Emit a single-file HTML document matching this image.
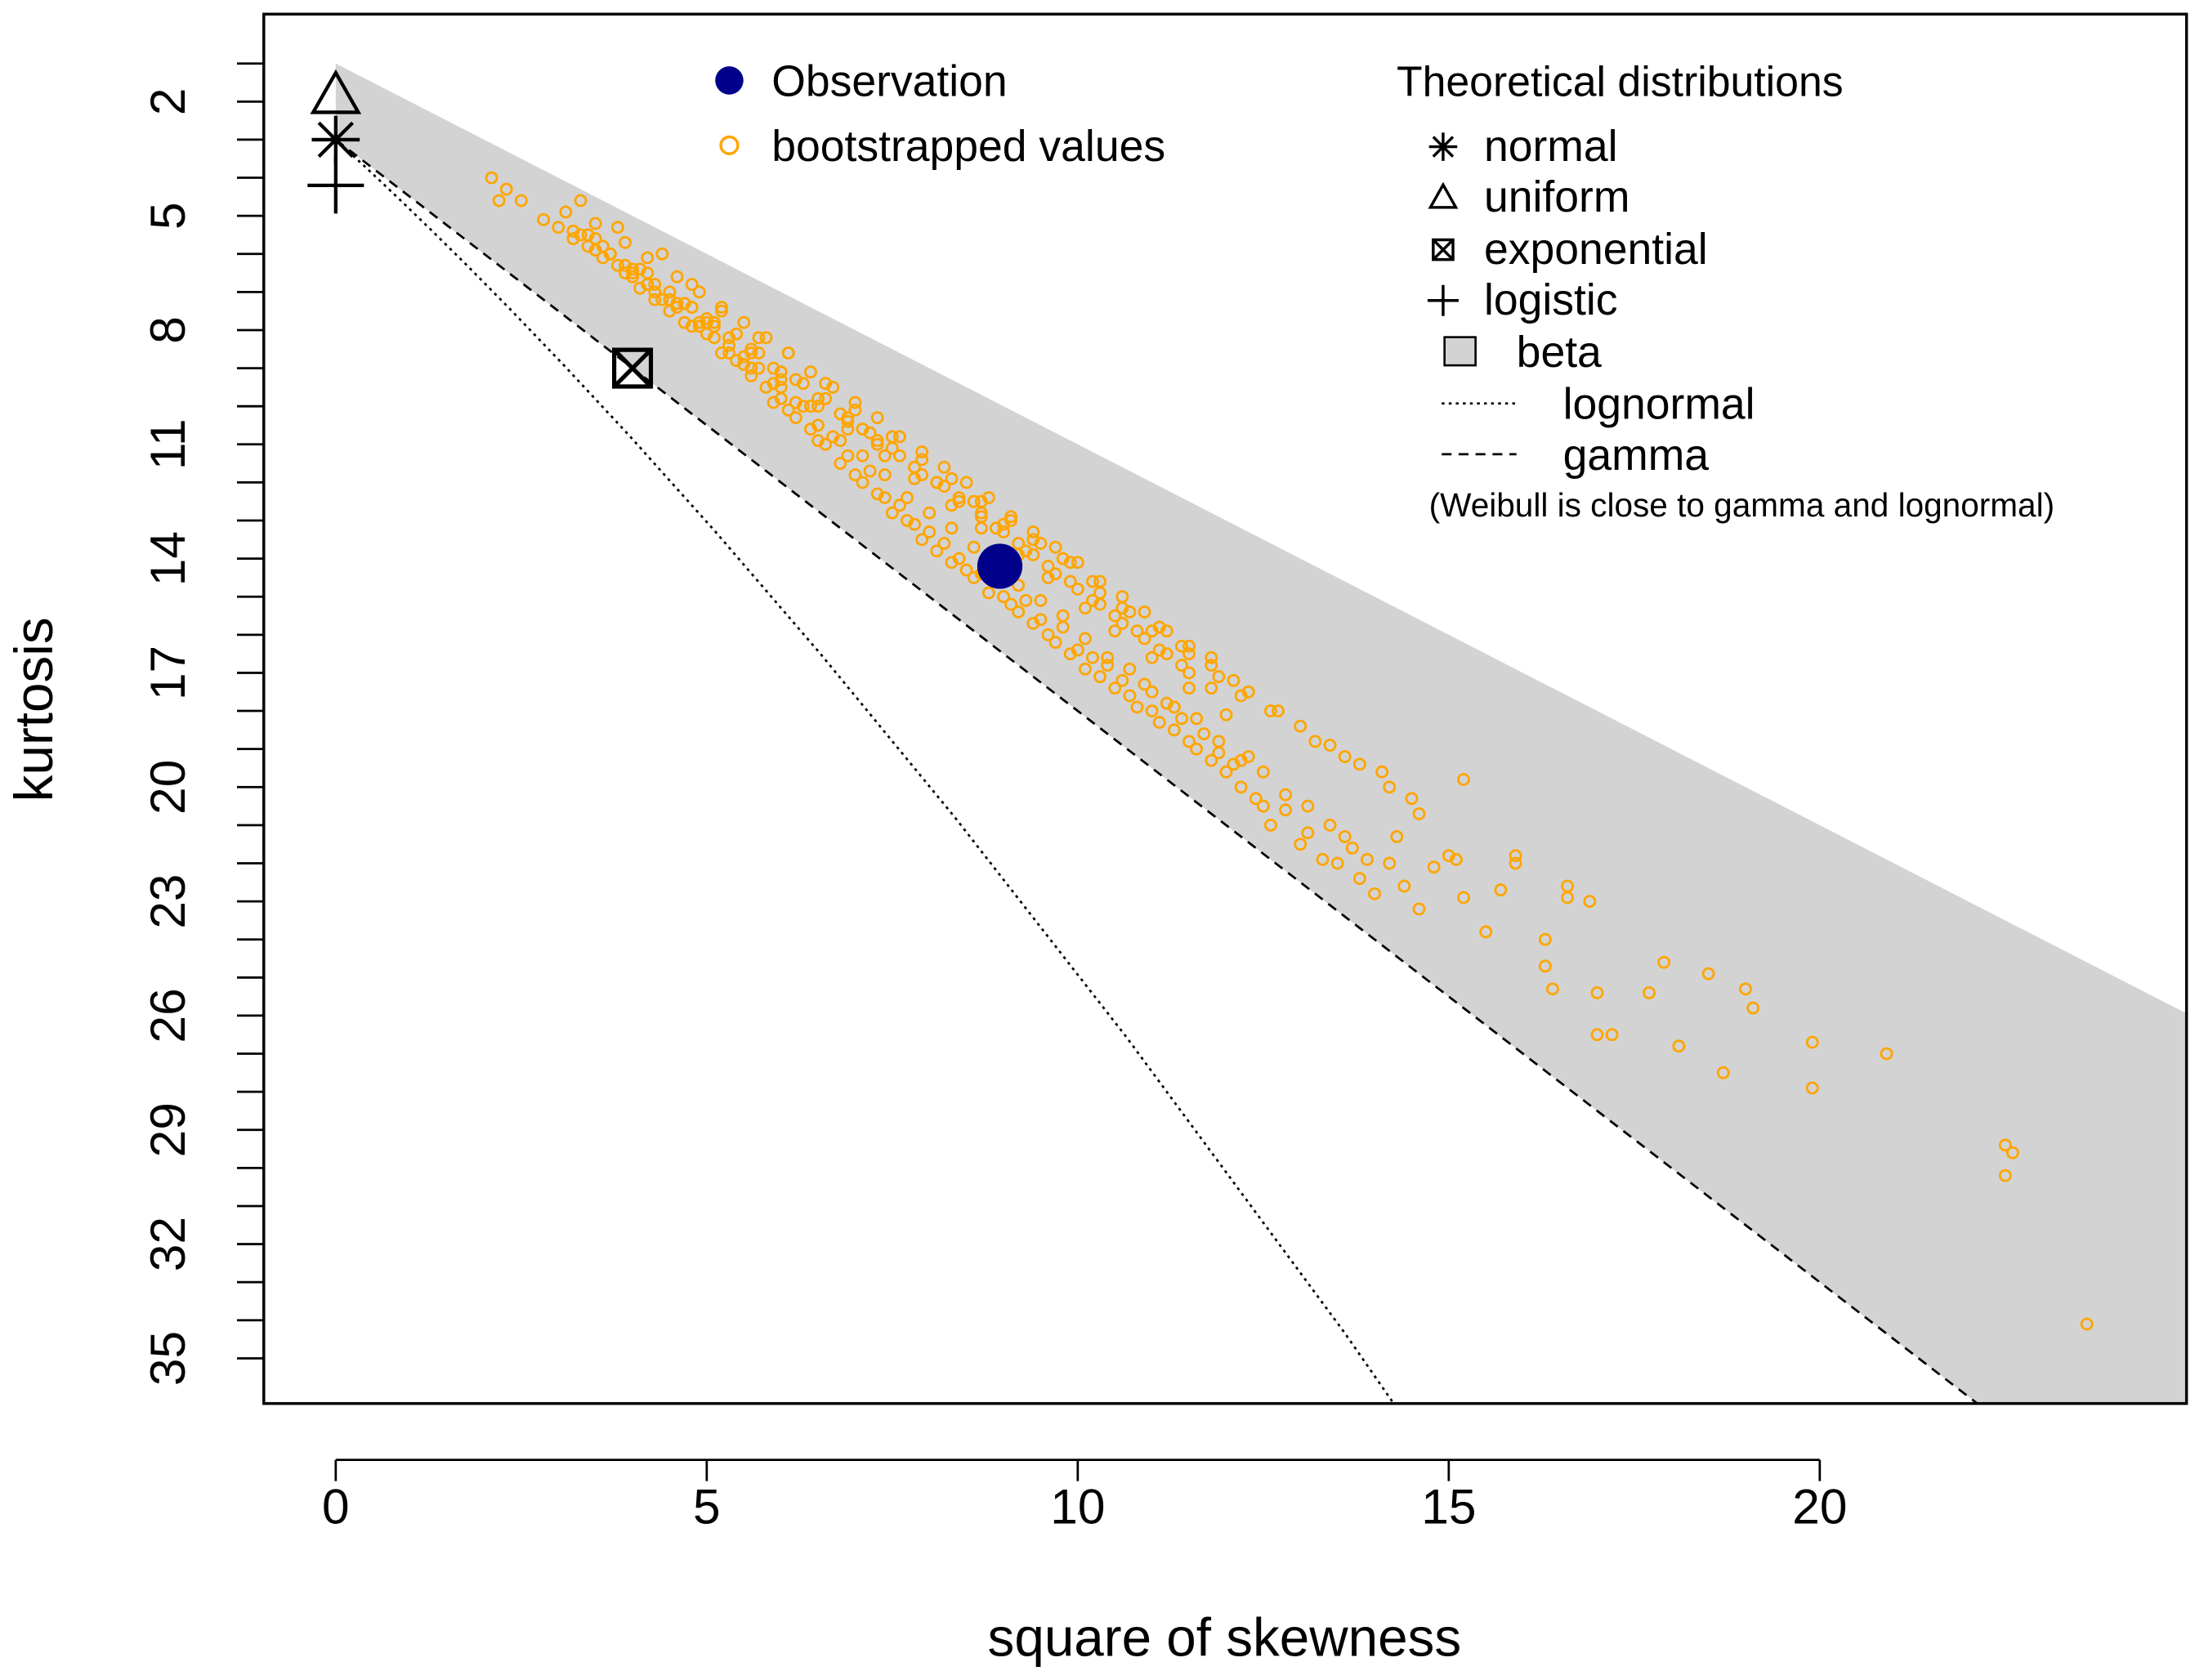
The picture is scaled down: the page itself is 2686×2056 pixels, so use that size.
<!DOCTYPE html>
<html><head><meta charset="utf-8"><style>
html,body{margin:0;padding:0;background:#fff;overflow:hidden;width:2686px;height:2056px}
svg{display:block}
text{font-family:"Liberation Sans",Arial,sans-serif;fill:#000}
</style></head><body>
<svg id="chart" width="2686" height="2056" viewBox="0 0 1556 1191" xmlns="http://www.w3.org/2000/svg">
<rect x="0" y="0" width="1556" height="1191" fill="#fff"/>
<g id="plot"></g>
<rect x="187" y="10" width="1363" height="985" fill="none" stroke="#000" stroke-width="2"/>
<g id="axes"></g>
<text x="868" y="1174" font-size="38" text-anchor="middle">square of skewness</text>
<text x="0" y="0" font-size="38" text-anchor="middle" transform="translate(37,503) rotate(-90)">kurtosis</text>
<g id="legend"></g>
</svg>
<script>
const bootSkew=[2.1,2.3,2.2,2.5,2.8,3.0,3.2,3.3,3.4,3.5,3.6,3.7,3.8,3.9,4.0,4.1,4.2,4.3,4.4,4.5,4.6,4.7,4.8,4.9,5.0,5.1,5.2,5.3,5.4,5.5,5.6,5.7,5.8,5.9,6.0,6.1,6.2,6.3,6.4,6.5,6.6,6.7,6.8,6.9,7.0,7.1,7.2,7.3,7.4,7.5,7.6,7.7,7.8,7.9,8.0,8.1,8.2,8.3,8.4,8.5,8.6,8.7,8.8,8.9,9.0,9.1,9.2,9.3,9.4,9.5,9.6,9.7,9.8,9.9,10.0,10.1,10.2,10.3,10.4,10.5,10.6,10.7,10.8,10.9,11.0,11.1,11.2,11.3,11.4,11.5,11.6,11.7,11.8,11.9,12.0,12.1,12.2,12.3,12.4,12.5,12.6,12.8,13.0,13.1,13.3,13.5,13.6,13.8,14.0,14.2,14.4,14.6,14.8,15.2,15.2,15.0,15.5,15.7,15.9,15.9,16.3,16.3,16.4,16.6,16.6,17.0,17.0,16.9,17.2,17.7,17.9,18.1,18.5,18.7,19.0,19.1,19.9,19.9,20.9,22.5,22.6,22.5,23.6,
3.1,3.5,3.9,4.3,4.6,4.9,5.3,5.6,5.9,6.2,6.5,6.8,7.1,7.4,7.7,8.0,8.3,8.6,8.9,9.2,9.5,9.8,10.1,10.4,10.7,11.0,11.3,11.6,11.9,12.2,12.5,12.8,13.1,13.4,13.7,
3.3,3.8,4.4,4.8,5.2,5.7,6.1,6.6,7.0,7.5,7.9,8.3,8.7,9.1,9.5,9.9,10.3,10.7,11.1,11.5,11.9,12.3,12.7,13.2,13.6,14.1,14.5,14.3,13.9,
3.4,4.0,4.5,5.0,5.5,6.0,6.4,6.9,7.3,7.8,8.2,8.6,9.0,9.4,9.8,10.2,10.6,11.0,11.4,11.8,12.2,12.6,13.0,13.4,13.8,14.2,14.6,15.1,
3.2,3.6,4.0,4.3,4.7,5.0,5.3,5.6,5.9,6.2,6.5,6.8,7.1,7.3,7.6,7.9,8.1,8.4,8.7,8.9,9.2,9.4,9.7,10.0,10.3,10.6,10.9,11.2,11.5,11.8,
3.5,3.9,4.2,4.6,4.9,5.2,5.5,5.8,6.1,6.4,6.7,7.0,7.3,7.6,7.9,8.2,8.5,8.8,9.1,9.4,9.7,10.0,10.3,10.6,10.9,11.2,11.5,11.8,12.1,
3.7,4.1,4.5,4.8,5.1,5.4,5.7,6.0,6.3,6.6,6.9,7.2,7.5,7.8,8.1,8.4,8.7,9.0,9.3,9.6,9.9,10.2,10.5,10.8,11.1,11.4,
4.2,4.7,5.1,5.6,6.0,6.5,6.9,7.4,7.8,8.3,8.7,9.2,9.6,10.1,10.5,11.0,11.5,12.0];
const bootKurt=[4.0,4.3,4.6,4.6,5.1,5.3,5.6,5.5,5.8,5.9,6.1,6.0,6.3,6.5,6.6,6.9,6.8,7.2,7.2,7.5,7.3,7.8,7.9,7.8,8.1,8.2,8.6,8.4,8.8,8.9,9.2,9.0,9.5,9.9,9.8,10.1,10.3,10.0,10.6,10.9,11.0,10.8,11.5,11.3,11.8,12.0,11.7,12.3,12.4,12.8,12.6,13.0,13.1,13.5,13.3,13.8,13.6,14.1,14.0,14.3,14.5,14.4,14.9,14.6,15.0,15.2,15.4,15.1,15.7,15.6,16.0,16.2,15.8,16.5,16.4,16.9,16.6,17.1,16.8,17.4,17.2,17.6,17.9,17.3,18.0,18.3,17.8,18.5,18.2,18.8,19.0,18.6,19.3,19.1,19.6,19.4,20.0,19.2,20.3,20.5,21.0,20.6,21.5,21.2,21.9,22.0,21.3,22.4,22.8,22.0,22.6,23.2,22.1,22.9,19.8,21.8,23.8,22.7,21.8,22.0,24.0,24.7,25.3,22.6,22.9,25.4,26.5,23.0,26.5,25.4,24.6,26.8,24.9,27.5,25.3,25.8,26.7,27.9,27.0,29.4,29.6,30.2,34.1,
4.9,5.6,6.3,7.0,7.4,7.9,8.6,9.0,9.4,9.9,10.5,10.9,11.3,11.8,12.4,12.8,13.2,13.7,14.1,14.7,15.1,15.5,16.1,16.6,16.9,17.5,17.9,18.2,18.8,19.3,19.6,20.2,20.5,21.0,21.6,
4.6,5.3,6.0,6.8,7.5,8.2,8.6,9.4,10.1,10.8,11.4,11.9,12.5,13.0,13.6,14.1,14.9,15.4,15.8,16.5,17.1,17.5,18.0,18.8,19.2,19.6,20.3,21.3,21.9,
5.5,6.5,7.2,7.8,8.7,9.5,10.0,10.4,11.0,11.6,12.1,12.5,13.1,13.5,14.0,14.6,15.3,15.9,16.3,16.6,17.6,18.0,18.4,18.9,19.4,20.0,20.7,21.9,
5.4,5.8,6.4,6.8,7.3,7.7,8.2,8.5,9.0,9.3,9.8,10.2,10.6,10.9,11.3,11.8,12.0,12.5,12.9,13.2,13.6,13.9,14.4,14.8,15.2,15.7,16.1,16.5,17.0,17.4,
5.2,5.7,6.1,6.6,7.0,7.4,7.8,8.2,8.6,9.1,9.5,9.9,10.3,10.8,11.2,11.6,12.0,12.4,12.9,13.3,13.7,14.1,14.6,15.0,15.4,15.9,16.3,16.8,17.2,
6.0,6.4,7.0,7.4,7.8,8.1,8.6,9.1,9.4,9.8,10.3,10.7,11.1,11.6,12.0,12.4,12.8,13.3,13.8,14.2,14.6,15.1,15.5,15.9,16.4,16.8,
6.5,7.3,7.9,8.6,9.3,10.0,10.6,11.3,11.9,12.6,13.2,13.9,14.5,15.3,15.9,16.6,17.4,18.1];
const logSigmaParam=[0.05,0.1,0.15,0.2,0.25,0.3,0.35,0.4,0.45,0.5,0.55,0.6,0.65,0.7,0.75,0.8,0.85,0.9,0.95,1.0,1.05,1.1,1.15,1.2,1.25,1.3,1.35,1.4,1.45,1.5,1.55,1.6];
const xTicks=[0,5,10,15,20];
const yTickLabels=[2,5,8,11,14,17,20,23,26,29,32,35];
const yMinorTicks=[1,2,3,4,5,6,7,8,9,10,11,12,13,14,15,16,17,18,19,20,21,22,23,24,25,26,27,28,29,30,31,32,33,34,35];
const observation=[8.95,14.2];
const NS='http://www.w3.org/2000/svg';
const X=s=>238+s*52.6, Y=k=>72+(k-2)*27;
function el(t,a,p){const e=document.createElementNS(NS,t);for(const k in a)e.setAttribute(k,a[k]);p.appendChild(e);return e;}
const plot=document.getElementById('plot'),axes=document.getElementById('axes'),leg=document.getElementById('legend');
const defs=el('defs',{},plot);const cp=el('clipPath',{id:'cp'},defs);el('rect',{x:187,y:10,width:1363,height:985},cp);
const g=el('g',{'clip-path':'url(#cp)'},plot);
const xmax=(1550-238)/52.6;
const beta=el('polygon',{points:`${X(0)},${Y(1)} ${X(xmax)},${Y(xmax+1)} ${X(xmax)},${Y(3+1.5*xmax)} ${X(0)},${Y(3)}`,fill:'#d3d3d3'},g);


const gam=el('line',{x1:X(0),y1:Y(3),x2:X(30),y2:Y(3+45),stroke:'#000','stroke-width':1.6,'stroke-dasharray':'7,5'},g);


let pts=[];
logSigmaParam.forEach(s=>{const e=Math.exp(s*s);pts.push([X((e+2)*(e+2)*(e-1)),Y(e**4+2*e**3+3*e*e-3)]);});
const ln=el('polyline',{points:pts.map(p=>p.join(',')).join(' '),fill:'none',stroke:'#000','stroke-width':1.6,'stroke-dasharray':'2,3'},g);


bootSkew.forEach((s,i)=>{const c=el('circle',{cx:X(s),cy:Y(bootKurt[i]),r:3.8,fill:'none',stroke:'#FFA500','stroke-width':1.6},g);

});
const tri=el('polygon',{points:`${X(0)},${Y(1.8)-15} ${X(0)-16},${Y(1.8)+13} ${X(0)+16},${Y(1.8)+13}`,fill:'none',stroke:'#000','stroke-width':2.5},plot);

const star=el('path',{d:`M${X(0)-17},${Y(3)}h34M${X(0)},${Y(3)-17}v34M${X(0)-12},${Y(3)-12}l24,24M${X(0)+12},${Y(3)-12}l-24,24`,stroke:'#000','stroke-width':2.5},plot);

const plus=el('path',{d:`M${X(0)-20},${Y(4.2)}h40M${X(0)},${Y(4.2)-20}v40`,stroke:'#000','stroke-width':2.5},plot);

const ex=X(4),ey=Y(9);
const expo=el('path',{d:`M${ex-13},${ey-13}h26v26h-26zM${ex-13},${ey-13}l26,26M${ex+13},${ey-13}l-26,26`,fill:'none',stroke:'#000','stroke-width':3},plot);

const obs=el('circle',{cx:X(observation[0]),cy:Y(observation[1]),r:16,fill:'#00008B'},plot);


el('line',{x1:X(0),y1:1035,x2:X(20),y2:1035,stroke:'#000','stroke-width':1.6},axes);
xTicks.forEach(t=>{el('line',{x1:X(t),y1:1035,x2:X(t),y2:1050,stroke:'#000','stroke-width':1.6},axes);
const tx=el('text',{x:X(t),y:1080,'font-size':35,'text-anchor':'middle'},axes);tx.textContent=t;
});
el('line',{x1:187,y1:Y(1),x2:187,y2:Y(35),stroke:'#000','stroke-width':1.6},axes);
yMinorTicks.forEach(t=>el('line',{x1:168,y1:Y(t),x2:187,y2:Y(t),stroke:'#000','stroke-width':1.6},axes));
yTickLabels.forEach(t=>{const tx=el('text',{x:0,y:0,'font-size':35,'text-anchor':'middle',transform:`translate(131,${Y(t)}) rotate(-90)`},axes);tx.textContent=t;
});
function T(x,y,s,fs,name){const t=el('text',{x:x,y:y,'font-size':fs||31},leg);t.textContent=s;return t;}
el('circle',{cx:517,cy:57,r:10,fill:'#00008B'},leg);T(547,68,'Observation',31,'legend-observation');
el('circle',{cx:517,cy:103,r:6,fill:'none',stroke:'#FFA500','stroke-width':2},leg);T(547,114,'bootstrapped values',31,'legend-bootstrap');
T(990,68,'Theoretical distributions',30,'legend-title');
el('path',{d:'M1013,104h20M1023,94v20M1016,97l14,14M1030,97l-14,14',stroke:'#000','stroke-width':2},leg);T(1052,114,'normal',31,'legend-normal');
el('polygon',{points:'1023,131 1014,147 1032,147',fill:'none',stroke:'#000','stroke-width':2},leg);T(1052,150,'uniform',31,'legend-uniform');
el('path',{d:'M1016,170h14v14h-14zM1016,170l14,14M1030,170l-14,14',fill:'none',stroke:'#000','stroke-width':2},leg);T(1052,187,'exponential',31,'legend-exponential');
el('path',{d:'M1012,213h22M1023,202v22',stroke:'#000','stroke-width':2},leg);T(1052,223,'logistic',31,'legend-logistic');
el('rect',{x:1024,y:239,width:22,height:20,fill:'#d3d3d3',stroke:'#000','stroke-width':1.5},leg);T(1075,260,'beta',31,'legend-beta');
el('line',{x1:1022,y1:286,x2:1075,y2:286,stroke:'#000','stroke-width':1.6,'stroke-dasharray':'2,3'},leg);T(1108,297,'lognormal',31,'legend-lognormal');
el('line',{x1:1022,y1:322,x2:1075,y2:322,stroke:'#000','stroke-width':1.6,'stroke-dasharray':'7,5'},leg);T(1108,333,'gamma',31,'legend-gamma');
T(1013,366,'(Weibull is close to gamma and lognormal)',23.5,'legend-note');
</script>
</body></html>
